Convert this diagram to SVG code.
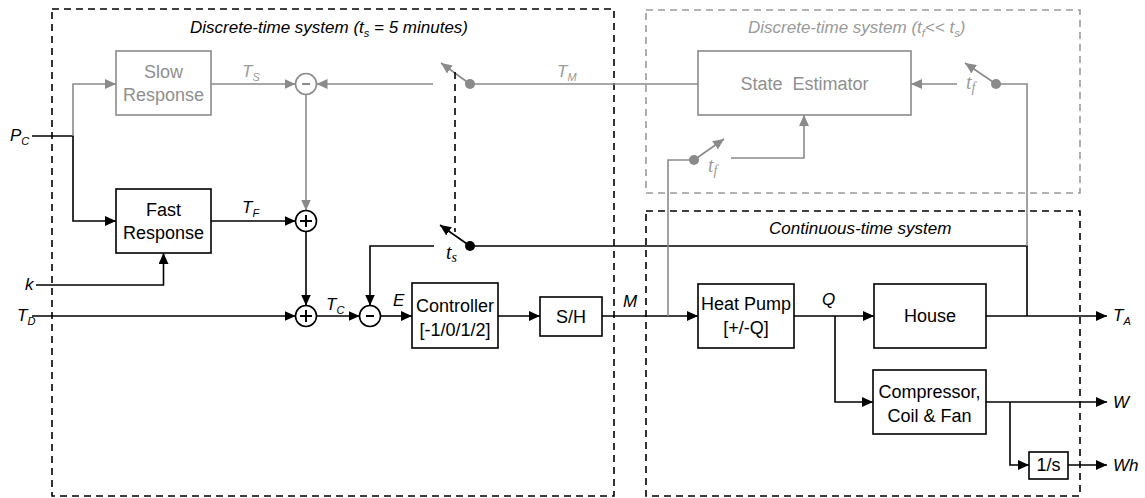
<svg xmlns="http://www.w3.org/2000/svg" width="1145" height="498" viewBox="0 0 1145 498">
<style>
.bx{fill:#fff;stroke:#000;stroke-width:1.6}
.gbx{fill:#fff;stroke:#8a8a8a;stroke-width:1.6}
.t{font-family:"Liberation Sans",Arial,sans-serif;font-size:18px;fill:#000;text-anchor:middle}
.gt{font-family:"Liberation Sans",Arial,sans-serif;font-size:18px;fill:#8f8f8f;text-anchor:middle}
.lb{font-family:"Liberation Sans",Arial,sans-serif;font-size:17px;font-style:italic;fill:#000}
.glb{font-family:"Liberation Sans",Arial,sans-serif;font-size:17px;font-style:italic;fill:#9a9a9a}
.sub{font-size:11px}
.mt{font-family:"Liberation Serif","DejaVu Serif",serif;font-size:20px;font-style:italic;fill:#000}
.gmt{font-family:"Liberation Serif","DejaVu Serif",serif;font-size:20px;font-style:italic;fill:#9a9a9a}
.ln{fill:none;stroke:#000;stroke-width:1.6}
.gln{fill:none;stroke:#8a8a8a;stroke-width:1.6}
.dash{fill:none;stroke:#000;stroke-width:1.6;stroke-dasharray:7 5}
.gdash{fill:none;stroke:#9a9a9a;stroke-width:1.6;stroke-dasharray:7 5}
.a{marker-end:url(#ab)}
.ga{marker-end:url(#ag)}
</style>
<defs>
<marker id="ab" markerUnits="userSpaceOnUse" markerWidth="11" markerHeight="10" refX="11" refY="5" orient="auto"><path d="M0,0 L11,5 L0,10 z" fill="#000"/></marker>
<marker id="ag" markerUnits="userSpaceOnUse" markerWidth="11" markerHeight="10" refX="11" refY="5" orient="auto"><path d="M0,0 L11,5 L0,10 z" fill="#8a8a8a"/></marker>
</defs>
<rect width="1145" height="498" fill="#fff"/>

<g id="regions">
<rect class="dash" x="52" y="9" width="562" height="487"/>
<rect class="gdash" x="646" y="10" width="434" height="183"/>
<rect class="dash" x="646" y="211" width="434" height="285"/>
<text class="lb" x="190" y="33" font-size="16.5">Discrete-time system (t<tspan class="sub" dy="4">s</tspan><tspan dy="-4"> = 5 minutes)</tspan></text>
<text class="glb" x="748" y="33" font-size="16.5">Discrete-time system (t<tspan class="sub" dy="4">f</tspan><tspan dy="-4">&lt;&lt; t</tspan><tspan class="sub" dy="4">s</tspan><tspan dy="-4">)</tspan></text>
<text class="lb" x="769" y="234" font-size="16.5">Continuous-time system</text>
</g>

<g id="connectors">
<polyline class="ln" points="32,136 73,136 73,221 116,221" marker-end="url(#ab)"/>
<polyline class="gln ga" points="73,136 73,84 116,84"/>
<line class="gln ga" x1="211" y1="84" x2="295.5" y2="84"/>
<line class="gln ga" x1="433" y1="84" x2="316.5" y2="84"/>
<line class="gln ga" x1="306" y1="94.5" x2="306" y2="210.5"/>
<line class="ln a" x1="211" y1="221" x2="295.5" y2="221"/>
<line class="ln a" x1="306" y1="231.5" x2="306" y2="305.5"/>
<polyline class="ln a" points="36,285 163.5,285 163.5,253"/>
<line class="ln a" x1="32" y1="316" x2="295.5" y2="316"/>
<line class="ln a" x1="316.5" y1="316" x2="359.5" y2="316"/>
<line class="ln a" x1="380.5" y1="316" x2="412" y2="316"/>
<line class="ln a" x1="498" y1="316" x2="540" y2="316"/>
<line class="ln a" x1="602" y1="316" x2="698" y2="316"/>
<line class="ln a" x1="794" y1="316" x2="874" y2="316"/>
<line class="ln a" x1="986" y1="316" x2="1107" y2="316"/>
<polyline class="ln" points="1027,316 1027,246 470,246"/>
<polyline class="ln a" points="434,246 370,246 370,305.5"/>
<line class="ln a" x1="470" y1="246" x2="440" y2="225"/>
<circle cx="470" cy="246" r="5" fill="#000"/>
<polyline class="gln" points="1027,246 1027,84 996,84"/>
<line class="gln ga" x1="957" y1="84" x2="911" y2="84"/>
<line class="gln ga" x1="996" y1="84" x2="965" y2="63"/>
<circle cx="996" cy="84" r="5" fill="#8a8a8a"/>
<line class="gln" x1="470" y1="84" x2="698" y2="84"/>
<line class="gln ga" x1="470" y1="84" x2="441" y2="63"/>
<circle cx="470" cy="84" r="5" fill="#8a8a8a"/>
<line class="dash" x1="455" y1="72" x2="455" y2="232"/>
<polyline class="gln" points="668,316 668,160 694,160"/>
<line class="gln ga" x1="694" y1="160" x2="724" y2="139"/>
<circle cx="694" cy="160" r="5" fill="#8a8a8a"/>
<polyline class="gln ga" points="731,158 804,158 804,115"/>
<polyline class="ln a" points="835,316 835,402 873,402"/>
<line class="ln a" x1="986" y1="402" x2="1107" y2="402"/>
<polyline class="ln a" points="1010,402 1010,465 1029,465"/>
<line class="ln a" x1="1068" y1="465" x2="1107" y2="465"/>
</g>

<g id="slow-response"><rect class="gbx" x="116" y="51" width="95" height="64"/><text class="gt" x="163.5" y="78">Slow</text><text class="gt" x="163.5" y="101">Response</text></g>
<g id="fast-response"><rect class="bx" x="116" y="189" width="95" height="64"/><text class="t" x="163.5" y="216">Fast</text><text class="t" x="163.5" y="239">Response</text></g>
<g id="sum-minus-top"><circle cx="306" cy="84" r="10.5" fill="#fff" stroke="#8a8a8a" stroke-width="1.6"/><line x1="302" y1="84" x2="310" y2="84" stroke="#8a8a8a" stroke-width="2"/></g>
<g id="sum-plus-mid"><circle cx="306" cy="221" r="10.5" fill="#fff" stroke="#000" stroke-width="1.6"/><path d="M300,221 H312 M306,215 V227" stroke="#000" stroke-width="2"/></g>
<g id="sum-plus-low"><circle cx="306" cy="316" r="10.5" fill="#fff" stroke="#000" stroke-width="1.6"/><path d="M300,316 H312 M306,310 V322" stroke="#000" stroke-width="2"/></g>
<g id="sum-minus-low"><circle cx="370" cy="316" r="10.5" fill="#fff" stroke="#000" stroke-width="1.6"/><line x1="366" y1="316" x2="374" y2="316" stroke="#000" stroke-width="2"/></g>
<g id="controller"><rect class="bx" x="412" y="283" width="86" height="65"/><text class="t" x="455" y="312">Controller</text><text class="t" x="455" y="336">[-1/0/1/2]</text></g>
<g id="sample-hold"><rect class="bx" x="540" y="297" width="62" height="39"/><text class="t" x="571" y="323">S/H</text></g>
<g id="state-estimator"><rect class="gbx" x="698" y="51" width="213" height="64"/><text class="gt" x="804.5" y="90" xml:space="preserve">State  Estimator</text></g>
<g id="heat-pump"><rect class="bx" x="698" y="284" width="96" height="64"/><text class="t" x="746" y="310">Heat Pump</text><text class="t" x="746" y="334">[+/-Q]</text></g>
<g id="house"><rect class="bx" x="874" y="284" width="112" height="64"/><text class="t" x="930" y="322">House</text></g>
<g id="compressor"><rect class="bx" x="873" y="370" width="113" height="64"/><text class="t" x="929.5" y="398">Compressor,</text><text class="t" x="929.5" y="422">Coil &amp; Fan</text></g>
<g id="integrator"><rect class="bx" x="1029" y="452" width="39" height="27"/><text class="t" x="1048.5" y="471">1/s</text></g>

<g id="labels">
<text class="lb" x="10" y="141">P<tspan class="sub" dy="4">C</tspan></text>
<text class="lb" x="25" y="290">k</text>
<text class="lb" x="17" y="321">T<tspan class="sub" dy="4">D</tspan></text>
<text class="glb" x="242" y="77">T<tspan class="sub" dy="4">S</tspan></text>
<text class="lb" x="242" y="213">T<tspan class="sub" dy="4">F</tspan></text>
<text class="lb" x="326" y="310">T<tspan class="sub" dy="4">C</tspan></text>
<text class="lb" x="393" y="306">E</text>
<text class="lb" x="623" y="307">M</text>
<text class="lb" x="822" y="305">Q</text>
<text class="glb" x="557" y="77">T<tspan class="sub" dy="4">M</tspan></text>
<text class="lb" x="1113" y="321">T<tspan class="sub" dy="4">A</tspan></text>
<text class="lb" x="1113" y="408">W</text>
<text class="lb" x="1113" y="471">Wh</text>
<text class="mt" x="446" y="259">t<tspan font-size="14" dy="3">s</tspan></text>
<text class="gmt" x="966" y="89">t<tspan font-size="14" dy="3">f</tspan></text>
<text class="gmt" x="708" y="172">t<tspan font-size="14" dy="3">f</tspan></text>
</g>
</svg>
